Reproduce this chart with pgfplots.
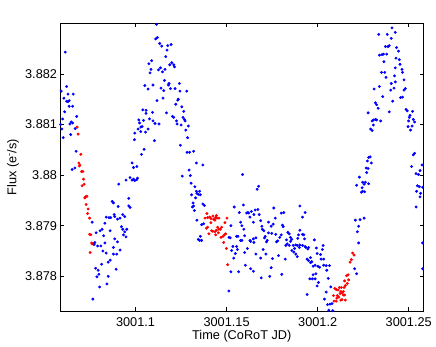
\documentclass[border=0pt]{standalone}
\usepackage{pgfplots}
\pgfplotsset{compat=1.18}
\usepackage{fontspec}
\setmainfont{Liberation Sans}

\begin{document}
\fontsize{12.8}{15}\selectfont
\begin{tikzpicture}
% x values are CoRoT JD minus 3001 (keeps TeX's precision), labelled as full JD
\begin{axis}[
    name=ax,
    width=364.3bp, height=288.4bp, scale only axis,
    xmin=0.0585, xmax=0.2582,
    ymin=3.87731, ymax=3.8830,
    xtick={0.1,0.15,0.2,0.25},
    xticklabels={3001.1,3001.15,3001.2,3001.25},
    ytick={3.878,3.879,3.88,3.881,3.882},
    yticklabels={3.878,3.879,3.88,3.881,3.882},
    scaled ticks=false,
    tick align=inside, xtick pos=both, ytick pos=both,
    major tick length=4bp,
    tick style={black, line width=0.5bp},
    axis line style={black, line width=0.6bp},
    xticklabel style={anchor=base, yshift=-15bp},
    yticklabel style={anchor=east, inner sep=0pt, xshift=-2.7bp},
    xlabel={Time (CoRoT JD)},
    ylabel={Flux (e\textsuperscript{-}/s)},
    xlabel style={at={(axis description cs:0.5,-0.0981)}, anchor=base},
    ylabel style={at={(axis description cs:-0.129,0.5)}, anchor=center},
    clip=false,
]

% blue points
\addplot[only marks, mark=*, mark size=1.25bp, blue, mark options={draw=none, fill=blue}] coordinates {
(0.0614,3.88243) (0.0622,3.88175) (0.0592,3.88166) (0.0629,3.88160)
(0.0658,3.88160) (0.0607,3.88152) (0.0622,3.88146) (0.0629,3.88145)
(0.0636,3.88147) (0.0636,3.88136) (0.0655,3.88136) (0.0611,3.88125)
(0.0677,3.88116) (0.0600,3.88111) (0.0647,3.88105) (0.0640,3.88101)
(0.0655,3.88103) (0.0589,3.88100) (0.0669,3.88092) (0.0596,3.88091)
(0.0644,3.88080) (0.0603,3.88074) (0.0674,3.88047) (0.0667,3.88014)
(0.0652,3.88011)
(0.1073,3.88220) (0.1080,3.88202) (0.1051,3.88177) (0.1069,3.88170)
(0.1040,3.88129) (0.1058,3.88128) (0.1058,3.88122) (0.1077,3.88111)
(0.1018,3.88109) (0.1044,3.88108) (0.1022,3.88103) (0.1036,3.88096)
(0.1029,3.88095) (0.1014,3.88091) (0.1069,3.88091) (0.0996,3.88083)
(0.1029,3.88086) (0.1055,3.88085) (0.0994,3.88070) (0.1047,3.88051)
(0.1033,3.88041) (0.0981,3.88024) (0.0989,3.88015) (0.1007,3.88017)
(0.0762,3.87907) (0.0770,3.87864) (0.0777,3.87867) (0.0773,3.87863)
(0.0784,3.87886) (0.0806,3.87890) (0.0817,3.87893) (0.0792,3.87860)
(0.0810,3.87860) (0.0825,3.87880) (0.0832,3.87866) (0.0821,3.87850)
(0.0839,3.87846) (0.0814,3.87824) (0.0781,3.87816) (0.0795,3.87812)
(0.0799,3.87804) (0.0788,3.87799) (0.0803,3.87779) (0.0766,3.87755)
(0.0832,3.87905) (0.0839,3.87917) (0.0854,3.87916) (0.0864,3.87916)
(0.0861,3.87890) (0.0850,3.87828) (0.0861,3.87832) (0.0850,3.87800)
(0.0843,3.87785) (0.0872,3.87948) (0.0879,3.87945) (0.0905,3.87938)
(0.0883,3.87922) (0.0886,3.87918) (0.0901,3.87913) (0.0915,3.87915)
(0.0886,3.87874) (0.0879,3.87857) (0.0901,3.87868) (0.0897,3.87844)
(0.0879,3.87844) (0.0915,3.87852) (0.0894,3.87814) (0.0908,3.87982)
(0.0930,3.87922) (0.0941,3.87918) (0.0923,3.87898) (0.0930,3.87893)
(0.0941,3.87888) (0.0934,3.87882) (0.0948,3.87878) (0.0952,3.87893)
(0.0963,3.87954) (0.0963,3.87939) (0.0970,3.87936) (0.0948,3.87990)
(0.0970,3.87995) (0.0981,3.87990) (0.0989,3.87992) (0.0996,3.87989)
(0.1007,3.87991) (0.1011,3.87994)
(0.1115,3.88298) (0.1111,3.88269) (0.1120,3.88272) (0.1133,3.88260)
(0.1144,3.88255) (0.1177,3.88256) (0.1195,3.88258) (0.1173,3.88247)
(0.1166,3.88234) (0.1089,3.88226) (0.1199,3.88222) (0.1188,3.88218)
(0.1210,3.88218) (0.1214,3.88214) (0.1085,3.88209) (0.1126,3.88208)
(0.1137,3.88212) (0.1148,3.88204) (0.1162,3.88209) (0.1159,3.88187)
(0.1184,3.88181) (0.1181,3.88178) (0.1192,3.88171) (0.1241,3.88181)
(0.1217,3.88171) (0.1244,3.88166) (0.1281,3.88166) (0.1096,3.88178)
(0.1140,3.88172) (0.1155,3.88167) (0.1151,3.88152) (0.1118,3.88147)
(0.1235,3.88150) (0.1232,3.88148) (0.1221,3.88140) (0.1254,3.88135)
(0.1265,3.88126) (0.1093,3.88124) (0.1170,3.88123) (0.1203,3.88116)
(0.1210,3.88114) (0.1261,3.88114) (0.1268,3.88110) (0.1272,3.88107)
(0.1096,3.88107) (0.1107,3.88102) (0.1129,3.88101) (0.1225,3.88107)
(0.1228,3.88101) (0.1250,3.88099) (0.1290,3.88097) (0.1276,3.88089)
(0.1286,3.88074) (0.1104,3.88068) (0.1246,3.88059) (0.1283,3.88045)
(0.1297,3.88045) (0.1319,3.88047) (0.1334,3.88024) (0.1370,3.88020)
(0.1294,3.88010)
(0.1301,3.87999) (0.1257,3.87998) (0.1305,3.87984) (0.1326,3.87977)
(0.1334,3.87968) (0.1352,3.87968) (0.1337,3.87964) (0.1345,3.87962)
(0.1356,3.87961) (0.1308,3.87961) (0.1330,3.87955) (0.1316,3.87945)
(0.1319,3.87939) (0.1312,3.87937) (0.1323,3.87930) (0.1370,3.87943)
(0.1378,3.87940) (0.1542,3.87937) (0.1337,3.87911) (0.1363,3.87902)
(0.1374,3.87904) (0.1356,3.87879) (0.1345,3.87873) (0.1352,3.87871)
(0.1363,3.87871) (0.1513,3.87877) (0.1520,3.87876) (0.1524,3.87900)
(0.1535,3.87859) (0.1528,3.87851) (0.1539,3.87836) (0.1524,3.87809)
(0.1513,3.87771)
(0.1588,3.88001) (0.1676,3.87978) (0.1668,3.87972) (0.1592,3.87941)
(0.1570,3.87926) (0.1610,3.87925) (0.1617,3.87926) (0.1621,3.87925)
(0.1636,3.87928) (0.1650,3.87922) (0.1657,3.87931) (0.1672,3.87932)
(0.1679,3.87922) (0.1628,3.87917) (0.1577,3.87907) (0.1584,3.87900)
(0.1595,3.87893) (0.1647,3.87907) (0.1687,3.87910) (0.1759,3.87935)
(0.1800,3.87925) (0.1814,3.87926) (0.1902,3.87939) (0.1917,3.87917)
(0.1931,3.87926) (0.1694,3.87899) (0.1697,3.87893) (0.1705,3.87890)
(0.1712,3.87879) (0.1723,3.87871) (0.1719,3.87868) (0.1708,3.87876)
(0.1730,3.87907) (0.1745,3.87899) (0.1756,3.87903) (0.1767,3.87915)
(0.1748,3.87885) (0.1730,3.87886) (0.1770,3.87883) (0.1807,3.87901)
(0.1811,3.87898) (0.1836,3.87887) (0.1844,3.87884) (0.1800,3.87882)
(0.1792,3.87877) (0.1781,3.87870) (0.1774,3.87868) (0.1829,3.87872)
(0.1851,3.87877) (0.1858,3.87873) (0.1902,3.87891) (0.1895,3.87882)
(0.1917,3.87883) (0.1924,3.87882) (0.1891,3.87875) (0.1928,3.87874)
(0.1917,3.87861) (0.1935,3.87857) (0.1899,3.87857) (0.1888,3.87861)
(0.1880,3.87862) (0.1873,3.87855) (0.1866,3.87861) (0.1851,3.87869)
(0.1844,3.87861) (0.1833,3.87864) (0.1825,3.87861) (0.1562,3.87879)
(0.1555,3.87879) (0.1577,3.87871) (0.1584,3.87871) (0.1628,3.87871)
(0.1647,3.87874) (0.1661,3.87876) (0.1650,3.87867) (0.1632,3.87869)
(0.1599,3.87880) (0.1555,3.87859) (0.1559,3.87853) (0.1548,3.87845)
(0.1599,3.87847) (0.1614,3.87855) (0.1661,3.87844) (0.1687,3.87836)
(0.1701,3.87853) (0.1716,3.87844) (0.1752,3.87835) (0.1785,3.87841)
(0.1822,3.87834) (0.1858,3.87851) (0.1869,3.87848) (0.1880,3.87844)
(0.1888,3.87839) (0.1902,3.87862) (0.1931,3.87859) (0.1946,3.87854)
(0.1950,3.87857) (0.1982,3.87872) (0.1993,3.87856) (0.1997,3.87845)
(0.2030,3.87861) (0.2026,3.87853) (0.2016,3.87843) (0.2019,3.87834)
(0.2033,3.87834) (0.2033,3.87822) (0.1942,3.87834) (0.1950,3.87831)
(0.1961,3.87837) (0.1968,3.87829) (0.1961,3.87827) (0.1975,3.87820)
(0.1986,3.87822) (0.2001,3.87820) (0.2011,3.87818) (0.1603,3.87822)
(0.1632,3.87815) (0.1647,3.87810) (0.1566,3.87809) (0.1745,3.87817)
(0.1803,3.87804) (0.1737,3.87800) (0.1690,3.87797) (0.1990,3.87805)
(0.1975,3.87803) (0.1957,3.87795) (0.1971,3.87795) (0.1986,3.87795)
(0.2004,3.87788) (0.1997,3.87781) (0.1942,3.87764) (0.2037,3.87755)
(0.2047,3.87821) (0.2065,3.87821) (0.2050,3.87812) (0.2058,3.87796)
(0.2047,3.87769) (0.2072,3.87779) (0.2079,3.87746) (0.2068,3.87745)
(0.2054,3.87744) (0.2061,3.87733) (0.2083,3.87732)
(0.2207,3.87911) (0.2233,3.87912) (0.2255,3.87915) (0.2225,3.87899)
(0.2218,3.87888) (0.2225,3.87866) (0.2203,3.87815) (0.2214,3.87805)
(0.2280,3.88035) (0.2288,3.88036) (0.2273,3.88028) (0.2295,3.88024)
(0.2266,3.88014) (0.2277,3.88013) (0.2269,3.88005) (0.2229,3.87996)
(0.2247,3.87986) (0.2262,3.87986) (0.2280,3.87983) (0.2255,3.87982)
(0.2214,3.87980) (0.2244,3.87975) (0.2247,3.87968) (0.2240,3.87966)
(0.2258,3.87967)
(0.2408,3.88291) (0.2426,3.88282) (0.2382,3.88278) (0.2404,3.88270)
(0.2335,3.88278) (0.2372,3.88254) (0.2386,3.88254) (0.2393,3.88256)
(0.2433,3.88252) (0.2444,3.88245) (0.2339,3.88237) (0.2353,3.88238)
(0.2361,3.88239) (0.2379,3.88239) (0.2430,3.88231) (0.2448,3.88228)
(0.2364,3.88224) (0.2452,3.88219) (0.2463,3.88209) (0.2426,3.88212)
(0.2350,3.88203) (0.2368,3.88203) (0.2375,3.88193) (0.2422,3.88196)
(0.2466,3.88203) (0.2474,3.88188) (0.2404,3.88181) (0.2426,3.88184)
(0.2419,3.88172) (0.2401,3.88168) (0.2481,3.88171) (0.2474,3.88168)
(0.2310,3.88170) (0.2339,3.88175) (0.2357,3.88155) (0.2466,3.88154)
(0.2455,3.88153) (0.2412,3.88146) (0.2393,3.88125) (0.2317,3.88143)
(0.2324,3.88139) (0.2332,3.88132) (0.2277,3.88123) (0.2306,3.88109)
(0.2317,3.88110) (0.2324,3.88109) (0.2299,3.88107) (0.2346,3.88107)
(0.2306,3.88099) (0.2291,3.88091) (0.2299,3.88088)
(0.2485,3.88130) (0.2492,3.88127) (0.2521,3.88126) (0.2507,3.88118)
(0.2503,3.88114) (0.2525,3.88110) (0.2532,3.88105) (0.2499,3.88107)
(0.2518,3.88097) (0.2510,3.88089) (0.2496,3.88096) (0.2525,3.88040)
(0.2532,3.88043) (0.2516,3.88017) (0.2573,3.88020) (0.2540,3.88003)
(0.2554,3.88001) (0.2562,3.88009) (0.2547,3.87979) (0.2558,3.87977)
(0.2576,3.87976) (0.2543,3.87968) (0.2565,3.87964) (0.2562,3.87957)
(0.2540,3.87937) (0.2576,3.87866) (0.2576,3.87815)
};

% red points
\addplot[only marks, mark=*, mark size=1.25bp, red, mark options={draw=none, fill=red}] coordinates {
(0.0680,3.88095) (0.0685,3.88081) (0.0700,3.88041) (0.0689,3.88024)
(0.0695,3.88020) (0.0692,3.88018) (0.0704,3.88007) (0.0711,3.88007)
(0.0715,3.87992) (0.0718,3.87982) (0.0707,3.87979) (0.0726,3.87957)
(0.0733,3.87958) (0.0722,3.87955) (0.0729,3.87942) (0.0740,3.87933)
(0.0737,3.87924) (0.0748,3.87915) (0.0748,3.87883) (0.0755,3.87882)
(0.0759,3.87866) (0.0762,3.87864) (0.0751,3.87847)
(0.1392,3.87924) (0.1381,3.87915) (0.1396,3.87916) (0.1407,3.87917)
(0.1414,3.87914) (0.1425,3.87919) (0.1429,3.87913) (0.1440,3.87916)
(0.1444,3.87920) (0.1447,3.87915) (0.1458,3.87915) (0.1414,3.87906)
(0.1436,3.87911) (0.1491,3.87906) (0.1502,3.87915) (0.1389,3.87895)
(0.1396,3.87897) (0.1418,3.87890) (0.1425,3.87889) (0.1436,3.87888)
(0.1444,3.87891) (0.1451,3.87897) (0.1458,3.87893) (0.1466,3.87893)
(0.1473,3.87897) (0.1455,3.87886) (0.1440,3.87882) (0.1403,3.87884)
(0.1469,3.87877) (0.1480,3.87879) (0.1488,3.87882) (0.1495,3.87884)
(0.1484,3.87867) (0.1499,3.87855) (0.1506,3.87823)
(0.2192,3.87846) (0.2200,3.87842) (0.2185,3.87833) (0.2178,3.87828)
(0.2167,3.87803) (0.2159,3.87801) (0.2148,3.87791) (0.2170,3.87793)
(0.2163,3.87786) (0.2152,3.87782) (0.2145,3.87778) (0.2130,3.87778)
(0.2119,3.87778) (0.2112,3.87773) (0.2094,3.87776) (0.2102,3.87774)
(0.2127,3.87770) (0.2141,3.87770) (0.2134,3.87767) (0.2123,3.87766)
(0.2108,3.87762) (0.2141,3.87763) (0.2148,3.87763) (0.2116,3.87759)
(0.2087,3.87762) (0.2105,3.87757) (0.2090,3.87751) (0.2102,3.87751)
(0.2127,3.87753) (0.2134,3.87754) (0.2152,3.87753)
};
\end{axis}
% keep the white margin of the original figure
\path ([shift={(-60bp,-33.3bp)}]ax.south west) rectangle ([shift={(11.7bp,23.3bp)}]ax.north east);
\end{tikzpicture}
\end{document}
